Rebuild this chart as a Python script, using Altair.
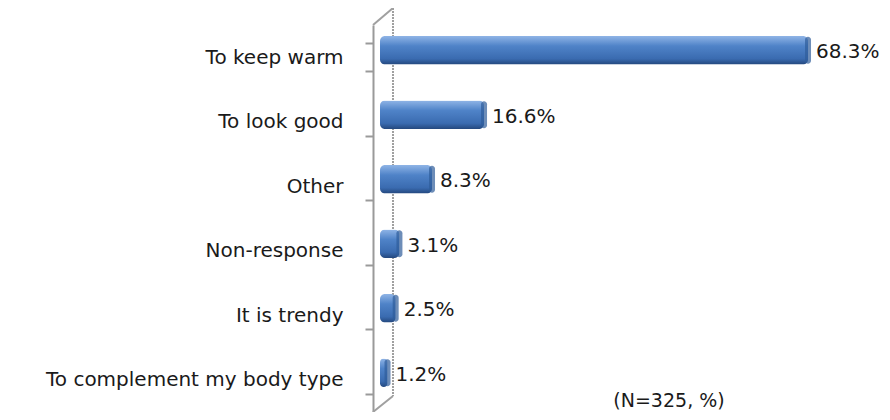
import altair as alt
import pandas as pd

categories = ["To keep warm", "To look good", "Other", "Non-response", "It is trendy", "To complement my body type"]
values = [68.3, 16.6, 8.3, 3.1, 2.5, 1.2]
labels = ["68.3%", "16.6%", "8.3%", "3.1%", "2.5%", "1.2%"]

df = pd.DataFrame({"cat": categories, "val": values, "lab": labels})

W, H = 470, 387
FONT = "DejaVu Sans"

y_enc = alt.Y("cat:N", sort=categories, title=None,
              scale=alt.Scale(paddingInner=0.56, paddingOuter=0.28),
              axis=alt.Axis(offset=7, tickBand="extent", tickSize=8, labelPadding=22,
                            domainColor="#9a9a9a", domainWidth=2, tickColor="#9a9a9a", tickWidth=2,
                            labelFont=FONT, labelFontSize=20, labelColor="#1a1a1a", labelLimit=400))
x_enc = alt.X("val:Q", scale=alt.Scale(domain=[0, 75], nice=False), axis=None, title=None)

grad = alt.Gradient(gradient="linear", x1=0, y1=0, x2=0, y2=1,
                    stops=[alt.GradientStop(offset=0, color="#8fb4e6"),
                           alt.GradientStop(offset=0.35, color="#4f83c8"),
                           alt.GradientStop(offset=0.8, color="#3a6bb0"),
                           alt.GradientStop(offset=1, color="#24487e")])

base = alt.Chart(df)

bars = base.mark_bar(fill=grad, cornerRadius=5, yOffset=-7).encode(y=y_enc, x=x_enc)

caps = base.mark_tick(color="#2f5c9a", thickness=6, size=27, cornerRadius=3, orient="vertical", yOffset=-7).encode(
    y=alt.Y("cat:N", sort=categories), x=alt.X("val:Q"))

text = base.mark_text(align="left", baseline="middle", dx=8, dy=-5, font=FONT, fontSize=20, color="#1a1a1a").encode(
    y=alt.Y("cat:N", sort=categories), x=alt.X("val:Q"), text="lab:N")

note = alt.Chart(pd.DataFrame({"t": ["(N=325,  %)"]})).mark_text(
    font=FONT, fontSize=19, color="#1a1a1a", align="center", baseline="middle").encode(
    x=alt.value(289), y=alt.value(376), text="t:N")

wall = alt.Chart(pd.DataFrame({"k": [1]})).mark_rule(color="#a0a0a0", strokeWidth=2, strokeDash=[2, 1]).encode(
    x=alt.value(13), x2=alt.value(13), y=alt.value(-17), y2=alt.value(371))
diag_top = alt.Chart(pd.DataFrame({"k": [1]})).mark_rule(color="#a0a0a0", strokeWidth=2).encode(
    x=alt.value(-7), x2=alt.value(13), y=alt.value(0), y2=alt.value(-17))
diag_bot = alt.Chart(pd.DataFrame({"k": [1]})).mark_rule(color="#a0a0a0", strokeWidth=2).encode(
    x=alt.value(-7), x2=alt.value(13), y=alt.value(387), y2=alt.value(371))

chart = alt.layer(wall, diag_top, diag_bot, bars, caps, text, note).properties(
    width=W, height=H,
    autosize=alt.AutoSizeParams(type="none"),
    padding={"left": 372, "top": 17, "right": 30, "bottom": 0},
    background="white",
).configure_view(strokeWidth=0)

chart.save("out.html", embed_options={"renderer": "svg", "actions": False})
